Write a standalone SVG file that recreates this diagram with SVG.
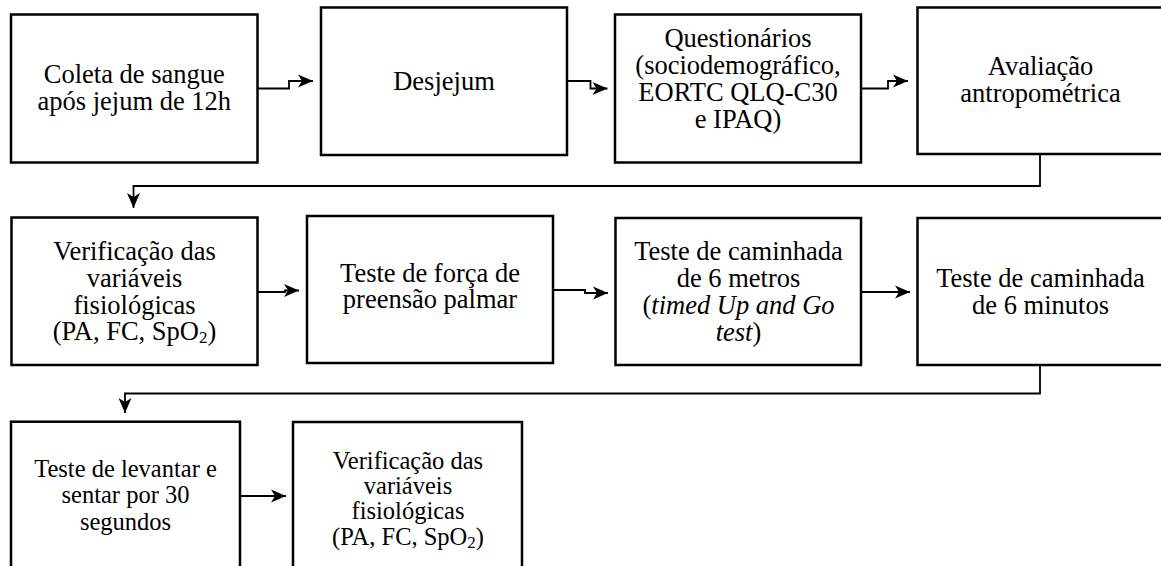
<svg xmlns="http://www.w3.org/2000/svg" width="1161" height="566" viewBox="0 0 1161 566">
<style>
.box{fill:#fff;stroke:#000;stroke-width:2.5}
.t{font-family:'Liberation Serif','Times New Roman',Times,'DejaVu Serif',serif;font-size:26.5px;fill:#000;text-anchor:middle}
.s{font-size:24.5px}
.c{fill:none;stroke:#000;stroke-width:1.8}
.sub{font-size:17px}
</style>
<defs>
<marker id="arr" markerUnits="userSpaceOnUse" markerWidth="18" markerHeight="16" refX="16" refY="7" orient="auto" viewBox="0 0 18 16">
<path d="M16,7 L1,0.5 L5,7 L1,13.5 Z" fill="#000"/>
</marker>
</defs>
<g id="connectors">
<path class="c" d="M257.5,88.5 H289 V81 H313" marker-end="url(#arr)"/>
<path class="c" d="M567,81 H590.5 V88.5 H607.5" marker-end="url(#arr)"/>
<path class="c" d="M861,88.5 H888 V81 H908" marker-end="url(#arr)"/>
<path class="c" d="M1040,154 V186 H133.5 V208" marker-end="url(#arr)"/>
<path class="c" d="M257.5,292 H285 V290.5 H299" marker-end="url(#arr)"/>
<path class="c" d="M553,290 H585 V293 H608" marker-end="url(#arr)"/>
<path class="c" d="M861,292 H910" marker-end="url(#arr)"/>
<path class="c" d="M1040,365 V393.5 H125 V413" marker-end="url(#arr)"/>
<path class="c" d="M240,496 H286" marker-end="url(#arr)"/>
</g>
<g font-family="Liberation Serif, serif">
<g id="n1">
<rect class="box" x="11" y="14.5" width="246.5" height="148"/>
<text class="t" x="134.25" y="83.3">Coleta de sangue</text>
<text class="t" x="134.25" y="110">após jejum de 12h</text>
</g>
<g id="n2">
<rect class="box" x="321" y="7.5" width="246" height="147.5"/>
<text class="t" x="444" y="90">Desjejum</text>
</g>
<g id="n3">
<rect class="box" x="615" y="14.5" width="246" height="148"/>
<text class="t" x="738" y="46.5">Questionários</text>
<text class="t" x="738" y="73.5">(sociodemográfico,</text>
<text class="t" x="738" y="100.5">EORTC QLQ-C30</text>
<text class="t" x="738" y="127.5">e IPAQ)</text>
</g>
<g id="n4">
<rect class="box" x="917.5" y="7.5" width="247" height="146.5"/>
<text class="t" x="1040.5" y="75">Avaliação</text>
<text class="t" x="1040.5" y="101.5">antropométrica</text>
</g>
<g id="n5">
<rect class="box" x="11.5" y="217.5" width="246" height="147.5"/>
<text class="t" x="134.5" y="260">Verificação das</text>
<text class="t" x="134.5" y="287">variáveis</text>
<text class="t" x="134.5" y="313.5">fisiológicas</text>
<text class="t" x="134.5" y="340">(PA, FC, SpO<tspan class="sub" dy="3">2</tspan><tspan dy="-3">)</tspan></text>
</g>
<g id="n6">
<rect class="box" x="307" y="216" width="246" height="147"/>
<text class="t" x="430" y="281.7">Teste de força de</text>
<text class="t" x="430" y="308.3">preensão palmar</text>
</g>
<g id="n7">
<rect class="box" x="615.5" y="218" width="245.5" height="147"/>
<text class="t" x="738.5" y="260">Teste de caminhada</text>
<text class="t" x="738.5" y="287">de 6 metros</text>
<text class="t" x="738.5" y="313.5">(<tspan font-style="italic">timed Up and Go</tspan></text>
<text class="t" x="738.5" y="341"><tspan font-style="italic">test</tspan>)</text>
</g>
<g id="n8">
<rect class="box" x="917.5" y="218" width="247" height="147"/>
<text class="t" x="1040.5" y="286.7">Teste de caminhada</text>
<text class="t" x="1040.5" y="314">de 6 minutos</text>
</g>
<g id="n9">
<rect class="box" x="11" y="421.7" width="229" height="160"/>
<text class="t s" x="125.5" y="476.7">Teste de levantar e</text>
<text class="t s" x="125.5" y="503.3">sentar por 30</text>
<text class="t s" x="125.5" y="530">segundos</text>
</g>
<g id="n10">
<rect class="box" x="293" y="422" width="229" height="160"/>
<text class="t s" x="408" y="468.5">Verificação das</text>
<text class="t s" x="408" y="493.5">variáveis</text>
<text class="t s" x="408" y="518.5">fisiológicas</text>
<text class="t s" x="408" y="544.5">(PA, FC, SpO<tspan class="sub" dy="3">2</tspan><tspan dy="-3">)</tspan></text>
</g>
</g>
</svg>
